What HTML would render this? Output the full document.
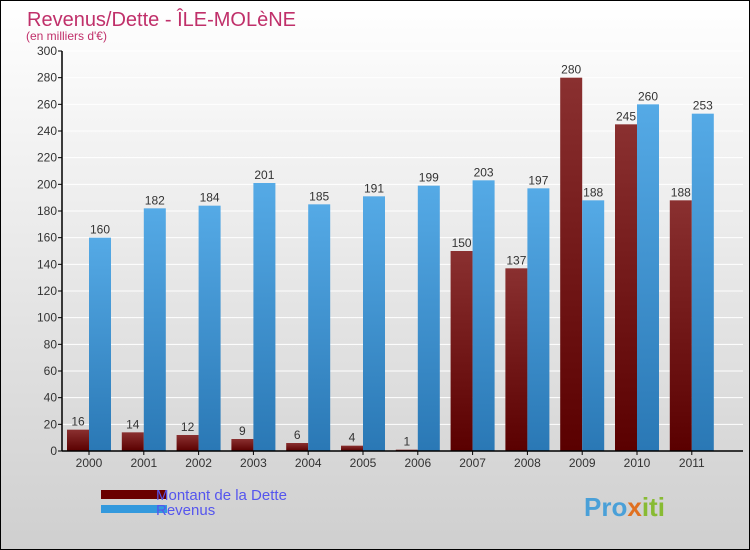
<!DOCTYPE html>
<html><head><meta charset="utf-8"><style>
body{margin:0}
#wrap{position:relative;width:748px;height:548px;border:1px solid #000;background:linear-gradient(#ffffff,#cfcfcf);font-family:"Liberation Sans",sans-serif;overflow:hidden}
</style></head><body>
<div id="wrap">
<svg id="chart" width="748" height="548">
<defs>
<linearGradient id="gD" x1="0" y1="0" x2="0" y2="1"><stop offset="0" stop-color="#8a3030"/><stop offset="1" stop-color="#5a0000"/></linearGradient>
<linearGradient id="gR" x1="0" y1="0" x2="0" y2="1"><stop offset="0" stop-color="#55aae6"/><stop offset="1" stop-color="#2a78b5"/></linearGradient>
</defs>
<text x="26" y="25" font-size="20" fill="#c0306a">Revenus/Dette - ÎLE-MOLèNE</text>
<text x="25" y="39" font-size="12" fill="#c0306a">(en milliers d'€)</text>
<g id="grid"></g><g id="bars"></g><g id="axes"></g>
<rect x="100" y="489" width="66" height="9" fill="#6a0000"/>
<text x="155" y="499" font-size="15" fill="#5555ee">Montant de la Dette</text>
<rect x="100" y="504" width="66" height="8" fill="#3399dd"/>
<text x="155" y="514" font-size="15" fill="#5555ee">Revenus</text>
<text x="583" y="515" font-size="26" font-weight="bold" fill="#4aa0d8">Pro<tspan fill="#e07020">x</tspan><tspan fill="#88bb33">iti</tspan></text>
</svg>
</div>
<script>
const years=["2000","2001","2002","2003","2004","2005","2006","2007","2008","2009","2010","2011"];
const dette=[16,14,12,9,6,4,1,150,137,280,245,188];
const revenus=[160,182,184,201,185,191,199,203,197,188,260,253];
const yTicks=[0,20,40,60,80,100,120,140,160,180,200,220,240,260,280,300];
const NS="http://www.w3.org/2000/svg";
const x0=61,groupW=54.8,barW=22,yBase=450,yTop=50,yMax=300;
function y(v){return yBase-(v/yMax)*(yBase-yTop);}
function gx(i){return x0+i*groupW+5;}
function mk(tag,attrs,parent){const e=document.createElementNS(NS,tag);for(const k in attrs)e.setAttribute(k,attrs[k]);parent.appendChild(e);return e;}
const grid=document.getElementById('grid'),bars=document.getElementById('bars'),axes=document.getElementById('axes');
yTicks.forEach(t=>{
 const l=mk('line',{x1:x0,x2:742,y1:y(t),y2:y(t),stroke:'#ffffff','stroke-width':1},grid);
 
 
 const tk=mk('line',{x1:x0-4,x2:x0,y1:y(t),y2:y(t),stroke:'#000'},axes);
 
 
 const tx=mk('text',{x:x0-5,y:y(t)+4,'text-anchor':'end','font-size':12,fill:'#333'},axes);
 tx.textContent=t;
 
 
});
years.forEach((yr,i)=>{
 const xd=gx(i),xr=xd+barW;
 const bd=mk('rect',{x:xd,y:y(dette[i]),width:barW,height:yBase-y(dette[i]),fill:'url(#gD)'},bars);
 
 
 const br=mk('rect',{x:xr,y:y(revenus[i]),width:barW,height:yBase-y(revenus[i]),fill:'url(#gR)'},bars);
 
 
 const ld=mk('text',{x:xd+barW/2,y:y(dette[i])-4,'text-anchor':'middle','font-size':12,fill:'#333'},bars);
 ld.textContent=dette[i];
 
 
 const lr=mk('text',{x:xr+barW/2,y:y(revenus[i])-4,'text-anchor':'middle','font-size':12,fill:'#333'},bars);
 lr.textContent=revenus[i];
 
 
 const xl=mk('text',{x:xr,y:466,'text-anchor':'middle','font-size':12,fill:'#333'},axes);
 xl.textContent=yr;
 
 
 const xt=mk('line',{x1:xr,x2:xr,y1:yBase,y2:yBase+4,stroke:'#000'},axes);
 
 
});
const ya=mk('line',{x1:x0,x2:x0,y1:yTop,y2:yBase,stroke:'#000','stroke-width':1.5},axes);


const xa=mk('line',{x1:x0,x2:742,y1:yBase,y2:yBase,stroke:'#000','stroke-width':1.5},axes);


</script>
</body></html>
